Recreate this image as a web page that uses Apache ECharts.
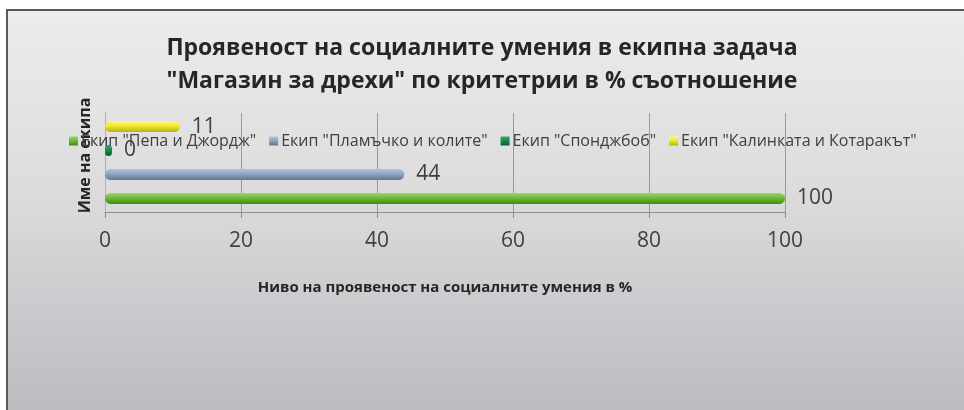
<!DOCTYPE html>
<html>
<head>
<meta charset="utf-8">
<script src="https://cdn.jsdelivr.net/npm/echarts@6/dist/echarts.min.js"></script>
<style>
html,body{margin:0;padding:0;background:#ffffff;}
#frame{position:absolute;left:6px;top:9px;width:958px;height:401px;box-sizing:border-box;border-left:2px solid #5a5a5a;border-top:2px solid #5a5a5a;background:linear-gradient(to bottom,#ececec 0%,#dcdcdd 45%,#babcc0 100%);}
#main{position:absolute;left:0;top:0;width:964px;height:410px;}
</style>
</head>
<body>
<div id="frame"></div>
<div id="main"></div>
<script>
var titleLines = ['Проявеност на социалните умения в екипна задача', '"Магазин за дрехи" по критетрии в % съотношение'];
var categories = ['Екипи'];
var seriesNames = ['Екип "Пепа и Джордж"', 'Екип "Пламъчко и колите"', 'Екип "Спонджбоб"', 'Екип "Калинката и Котаракът"'];
var valuesPepa = [100];
var valuesPlamachko = [44];
var valuesSponge = [0];
var valuesKalinka = [11];
var xTicks = [0, 20, 40, 60, 80, 100];
var xAxisName = 'Ниво на проявеност на социалните умения в %';
var yAxisName = 'Име на екипа';

var seriesValues = [valuesPepa, valuesPlamachko, valuesSponge, valuesKalinka];
var colorStops = [
  ['#9ad86a', '#6cbc36', '#3f8a1c'],
  ['#b3c3d8', '#8fa4c2', '#5f7696'],
  ['#3aa866', '#1c8a48', '#0e5e2e'],
  ['#fbf78a', '#f0ea28', '#b8b010']
];
var font = '"Open Sans", "Noto Sans", sans-serif';

var chart = echarts.init(document.getElementById('main'), null, {renderer: 'canvas'});

// Excel draws the first series at the bottom: add series in reverse order.
var series = seriesNames.map(function (name, i) {
  var c = colorStops[i];
  return {
    name: name,
    type: 'bar',
    data: seriesValues[i],
    barWidth: 11,
    barGap: '118%',
    barMinHeight: i === 2 ? 7 : 0,
    itemStyle: {
      borderRadius: 5.5,
      color: new echarts.graphic.LinearGradient(0, 0, 0, 1, [
        {offset: 0, color: c[0]}, {offset: 0.45, color: c[1]}, {offset: 1, color: c[2]}
      ])
    },
    label: {
      show: true,
      position: 'right',
      distance: 12,
      fontSize: 21,
      color: '#404040',
      fontFamily: font
    }
  };
}).reverse();

chart.setOption({
  backgroundColor: 'transparent',
  animation: false,
  title: {
    text: titleLines.join('\n'),
    left: 'center',
    top: 27,
    textStyle: {fontSize: 23, fontWeight: 'bold', color: '#262626', lineHeight: 33, fontFamily: font}
  },
  legend: {
    data: seriesNames,
    top: 128,
    left: 64,
    itemWidth: 9,
    itemHeight: 9,
    itemGap: 13,
    icon: 'rect',
    textStyle: {fontSize: 16, color: '#404040', fontFamily: font, padding: [0, 0, 0, -2]}
  },
  grid: {left: 105, right: 179, top: 113, height: 99, containLabel: false},
  xAxis: {
    type: 'value',
    min: 0,
    max: 100,
    interval: 20,
    name: xAxisName,
    nameLocation: 'middle',
    nameGap: 68,
    nameTextStyle: {fontSize: 15, fontWeight: 'bold', color: '#262626', fontFamily: font},
    axisLine: {show: true, lineStyle: {color: '#8c8c8c'}},
    axisTick: {show: true, length: 6, lineStyle: {color: '#8c8c8c'}},
    axisLabel: {
      fontSize: 21, color: '#404040', margin: 19, fontFamily: font,
      formatter: function (v) { return xTicks.indexOf(v) >= 0 ? String(v) : ''; }
    },
    splitLine: {show: true, lineStyle: {color: '#9a9a9a', width: 1}}
  },
  yAxis: {
    type: 'category',
    data: categories,
    name: yAxisName,
    nameLocation: 'middle',
    nameGap: 12,
    nameRotate: 90,
    nameTextStyle: {fontSize: 16, fontWeight: 'bold', color: '#262626', fontFamily: font, padding: [0, 0, 0, 14]},
    axisLine: {show: true, lineStyle: {color: '#b0b0b0'}},
    axisTick: {show: false},
    axisLabel: {show: false}
  },
  series: series
});
</script>
</body>
</html>
